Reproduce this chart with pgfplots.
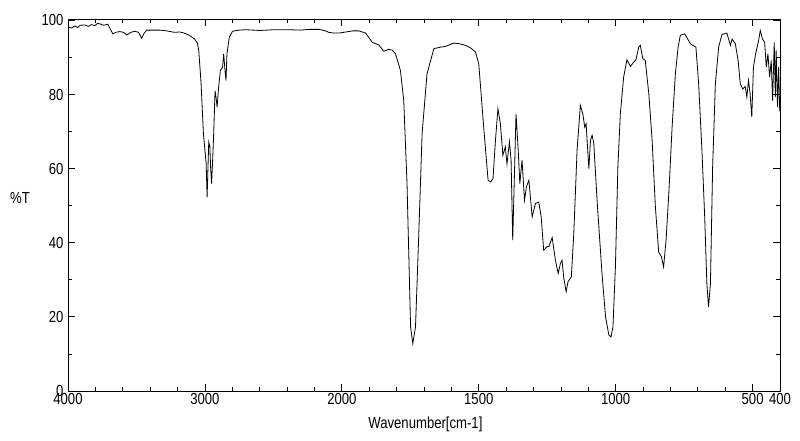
\documentclass[border=0pt]{standalone}
\usepackage{pgfplots}
\pgfplotsset{compat=1.18}
\usepackage{fontspec}
\setmainfont{Liberation Sans}[FakeStretch=0.82]
\begin{document}
\begin{tikzpicture}
\useasboundingbox (-68pt,-50pt) rectangle (732pt,391pt);
\begin{axis}[
  scale only axis, width=712pt, height=372pt,
  x coord trafo/.code={\pgfmathparse{(4000-max(#1,2000))/1000+(2000-min(#1,2000))/500}},
  xmin=4000, xmax=400, ymin=0, ymax=100.4,
  xtick={4000,3000,2000,1500,1000,500,400},
  xticklabels={4000,3000,2000,1500,1000,500,400},
  minor xtick={3800,3600,3400,3200,2800,2600,2400,2200,1900,1800,1700,1600,1400,1300,1200,1100,900,800,700,600},
  ytick={0,20,40,60,80,100},
  minor ytick={10,30,50,70,90},
  tick align=inside,
  major tick length=7pt, minor tick length=4pt,
  tick style={black, line width=0.8pt},
  axis line style={line width=0.9pt},
  /pgf/number format/assume math mode=true,
  ticklabel style={font=\fontsize{16}{17}\selectfont},
  xticklabel style={yshift=1pt},
  yticklabel style={xshift=-1pt},
  every axis y label/.style={at={(axis description cs:0,0.52)}, xshift=-48pt, anchor=center},
  every axis x label/.style={at={(axis description cs:0.502,0)}, yshift=-33pt, anchor=center},
  ylabel={\fontsize{16}{17}\selectfont\%T},
  xlabel={\fontsize{16}{17}\selectfont Wavenumber[cm-1]},
  clip=true,
]
\addplot[black, line width=0.8pt] coordinates {
(4000,98.2) (3975,98.0) (3949,98.5) (3930,98.1) (3910,98.7) (3876,98.8) (3850,98.4) (3830,98.9) (3804,98.6) (3785,99.2) (3767,99.1) (3740,98.7) (3709,99.0)
(3690,97.6) (3673,96.4) (3650,96.8) (3622,97.0) (3595,96.8) (3571,96.1) (3540,96.8) (3513,97.1) (3485,96.8) (3462,95.2) (3445,96.5) (3425,97.4)
(3380,97.4) (3331,97.4) (3280,97.2) (3222,96.8) (3185,96.9) (3150,96.6) (3113,96.0) (3076,95.0) (3055,93.9) (3045,91.9) (3028,83.0)
(3011,69.5) (2991,61.4) (2984,52.3) (2978,60) (2972,67.2) (2964,66) (2958,60) (2951,56.0) (2944,62) (2936,69.5) (2926,81.0) (2918,79) (2911,76.6)
(2900,82.0) (2887,86.5) (2871,87.4) (2863,91.0) (2852,86) (2846,83.8) (2839,91.0) (2822,95.5) (2798,97.1) (2750,97.4) (2700,97.5) (2600,97.3)
(2500,97.5) (2385,97.5) (2300,97.4) (2240,97.6) (2167,97.6) (2120,97.2) (2095,96.8) (2060,96.6) (2022,96.6)
(1985,96.9) (1960,97.2) (1938,97.2) (1913,96.6) (1889,94.1) (1865,93.4) (1847,91.7) (1830,92.2) (1816,92.0) (1804,91.0) (1786,86.5)
(1774,78.4) (1762,56.0) (1749,17.3) (1741,12.8) (1731,17.3) (1719,42.5) (1707,69.4) (1689,85.6) (1664,92.4) (1640,92.8) (1621,93.0)
(1591,93.9) (1570,93.7) (1549,93.3) (1530,92.6) (1512,91.5) (1500,88.3) (1482,71.2) (1466,56.9) (1457,56.4) (1448,57.3) (1439,67.7)
(1430,76.2) (1421,72.1) (1412,63.6) (1403,65.9) (1397,61.3) (1388,67.2) (1382,62.3) (1376,40.7) (1369,60.5) (1364,74.8) (1356,65.0)
(1350,56.0) (1342,62.3) (1333,51.5) (1326,55.1) (1317,56.9) (1305,47.0) (1293,50.6) (1281,51.0) (1272,47.0) (1263,38.0) (1250,39.0)
(1244,39.0) (1232,41.4) (1220,35.3) (1210,31.7) (1202,34.4) (1196,35.3) (1190,30.8) (1181,26.8) (1174,29.5) (1162,30.8) (1153,42.5)
(1141,65.0) (1129,77.1) (1120,74.8) (1113,71.2) (1108,72.1) (1098,60.0) (1092,67.7) (1086,69.0) (1080,66.8) (1068,51.5) (1050,31.7)
(1037,20.0) (1025,15.1) (1017,14.6) (1010,17.3) (1001,33.5) (992,60.5) (983,74.8) (971,84.7) (959,89.4) (946,87.6) (934,88.8) (926,89.4)
(916,92.8) (910,93.3) (901,89.7) (892,89.2) (879,80.2) (867,67.7) (855,49.7) (843,37.5) (833,36.2) (825,33.5) (816,40.7) (806,53.3)
(794,71.2) (782,85.6) (772,92.8) (764,96.0) (748,96.4) (727,93.7) (707,92.8) (697,82.9) (685,65.0) (675,47.0) (667,29.0) (661,22.7)
(654,29.0) (646,60.5) (636,82.9) (624,92.8) (612,96.2) (594,96.6) (581,93.3) (575,95.0) (563,93.7) (553,89.2) (545,82.9) (536,81.5)
(527,82.2) (521,79.3) (515,83.8) (509,80.2) (503,73.9) (497,87.4) (489,91.0) (478,94.6) (472,97.3) (464,95.0) (456,94.1) (450,87.4)
(444,91.0) (438,84.7) (432,89.2) (427,78.4) (421,94.1) (417,79.3) (414,91.9) (409,76.6) (405,87.4) (401,75.5)
};
\end{axis}
\end{tikzpicture}
\end{document}
